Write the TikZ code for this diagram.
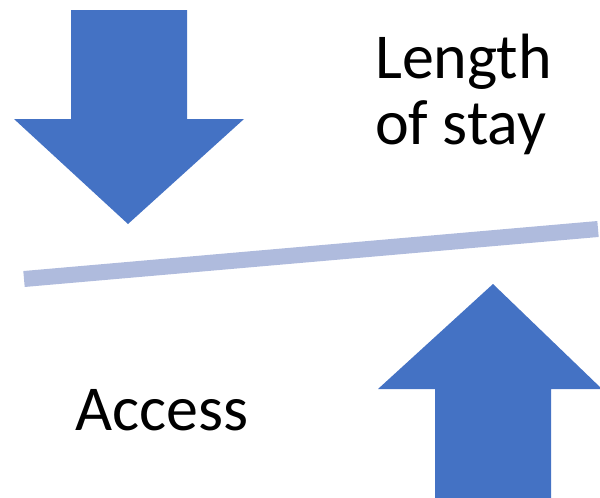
\documentclass[tikz,border=0pt]{standalone}
\usepackage{fontspec}
\setmainfont{Carlito}
\definecolor{arrowblue}{HTML}{4472C4}
\definecolor{barblue}{HTML}{AFBBDD}
\tikzset{
    bigarrow/.style={fill=arrowblue, draw=none},
    label/.style={font=\fontsize{64}{66}\selectfont, inner sep=0pt, align=left}
}

\begin{document}
\begin{tikzpicture}[x=1pt, y=-1pt]
    \useasboundingbox (0,0) rectangle (600,498);

    % down arrow
    \fill[bigarrow] (71,10) -- (187,10) -- (187,119) -- (244,119) -- (128,224)
        -- (14,119) -- (71,119) -- cycle;
    % up arrow
    \fill[bigarrow] (435,498) -- (551,498) -- (551,389) -- (602,389) -- (493,284)
        -- (378,389) -- (435,389) -- cycle;

    % balance bar
    \coordinate (barL) at (24,279);
    \coordinate (barR) at (598,229);
    \draw[barblue, line width=16pt] (barL) -- (barR);

    \node[label, anchor=base west] (los) at (375,78) {Length};
    \node[label, anchor=base west] (los2) at (375,144) {of stay};
    \node[label, anchor=base west] (acc) at (75,430) {Access};
\end{tikzpicture}
\end{document}
